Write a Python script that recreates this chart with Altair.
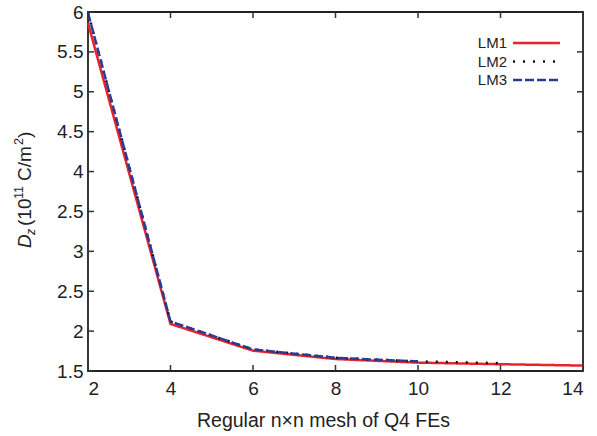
import altair as alt
import pandas as pd

# ---- data ----
series = ["LM1", "LM2", "LM3"]
mesh_lm1 = [2, 4, 6, 8, 10, 12, 14]
dz_lm1 = [5.86, 2.09, 1.755, 1.65, 1.605, 1.585, 1.568]
mesh_lm2 = [2, 4, 6, 8, 10, 12]
dz_lm2 = [5.99, 2.12, 1.77, 1.665, 1.62, 1.598]
mesh_lm3 = [2, 4, 6, 8, 10]
dz_lm3 = [5.99, 2.12, 1.77, 1.665, 1.62]

x_ticks = [2, 4, 6, 8, 10, 12, 14]
y_ticks = [1.5, 2, 2.5, 3, 3.5, 4, 4.5, 5, 5.5, 6]
y_tick_labels = ["1.5", "2", "2.5", "3", "2.5", "4", "4.5", "5", "5.5", "6"]

colors = ["#e8232a", "#111111", "#2b3a92"]
dashes = [[1, 0], [2, 8], [9, 3]]
widths = [2.5, 2.5, 3]

rows = []
for name, xs, ys in zip(series, [mesh_lm1, mesh_lm2, mesh_lm3], [dz_lm1, dz_lm2, dz_lm3]):
    for xv, yv in zip(xs, ys):
        rows.append({"series": name, "n": xv, "dz": yv})
df = pd.DataFrame(rows)

FONT = "Liberation Sans"
W, H = 495, 359

# label expression reproducing the reference's tick labels
expr = "datum.label"
for v, lab in zip(y_ticks, y_tick_labels):
    expr = f"datum.value == {v} ? '{lab}' : ({expr})"

xscale = alt.Scale(domain=[2, 14], nice=False, zero=False)
yscale = alt.Scale(domain=[1.5, 6], nice=False, zero=False)
cscale = alt.Scale(domain=series, range=colors)
dscale = alt.Scale(domain=series, range=dashes)
wscale = alt.Scale(domain=series, range=widths)

xaxis = alt.Axis(values=x_ticks, title="Regular n×n mesh of Q4 FEs",
                 ticks=False, tickSize=0, domain=False, grid=False,
                 labelFontSize=19, labelPadding=8, labelFont=FONT,
                 labelColor="#222", titleFont=FONT, titleFontSize=19.5,
                 titleFontWeight="normal", titleColor="#222",
                 titlePadding=13, titleX=235, titleAlign="center")

lines = alt.Chart(df).mark_line().encode(
    x=alt.X("n:Q", scale=xscale, axis=xaxis),
    y=alt.Y("dz:Q", scale=yscale,
            axis=alt.Axis(values=y_ticks, title=None, labelExpr=expr,
                          ticks=False, tickSize=0, domain=False, grid=False,
                          labelFontSize=19, labelPadding=5, labelFont=FONT,
                          labelColor="#222")),
    color=alt.Color("series:N", scale=cscale, legend=None),
    strokeDash=alt.StrokeDash("series:N", scale=dscale, legend=None),
    strokeWidth=alt.StrokeWidth("series:N", scale=wscale, legend=None),
)

ydf = pd.DataFrame({"v": y_ticks})
xdf = pd.DataFrame({"v": x_ticks})
tick_style = dict(color="#333", strokeWidth=1.5)
left_ticks = alt.Chart(ydf).mark_rule(**tick_style).encode(
    y=alt.Y("v:Q", scale=yscale, axis=None), x=alt.value(0), x2=alt.value(6))
right_ticks = alt.Chart(ydf).mark_rule(**tick_style).encode(
    y=alt.Y("v:Q", scale=yscale, axis=None), x=alt.value(W - 6), x2=alt.value(W))
bottom_ticks = alt.Chart(xdf).mark_rule(**tick_style).encode(
    x=alt.X("v:Q", scale=xscale, axis=xaxis), y=alt.value(H), y2=alt.value(H - 6))
top_ticks = alt.Chart(xdf).mark_rule(**tick_style).encode(
    x=alt.X("v:Q", scale=xscale, axis=xaxis), y=alt.value(0), y2=alt.value(6))

# legend (labels to the left of the line samples, as in the reference)
ldf = pd.DataFrame({"series": series})
lyscale = alt.Scale(type="point", domain=series, range=[31, 68], padding=0)
legend_lines = alt.Chart(ldf).mark_rule().encode(
    y=alt.Y("series:N", scale=lyscale, axis=None),
    x=alt.value(425), x2=alt.value(472),
    color=alt.Color("series:N", scale=cscale, legend=None),
    strokeDash=alt.StrokeDash("series:N", scale=dscale, legend=None),
    strokeWidth=alt.StrokeWidth("series:N", scale=wscale, legend=None),
)
legend_text = alt.Chart(ldf).mark_text(
    align="right", baseline="middle", font=FONT, fontSize=15, color="#222"
).encode(
    y=alt.Y("series:N", scale=lyscale, axis=None),
    x=alt.value(419),
    text="series:N",
)

# y-axis title built from pieces (italic D, subscript z, superscripts)
one = alt.Data(values=[{}])
def piece(txt, xpos, ypos, size, italic=False):
    return alt.Chart(one).mark_text(
        text=txt, angle=270, align="left", baseline="alphabetic",
        font=FONT, fontSize=size, fontStyle="italic" if italic else "normal",
        color="#222",
    ).encode(x=alt.value(xpos), y=alt.value(ypos))

title_parts = [
    piece("D", -57, 236, 19, True),
    piece("z", -53, 223, 12.5, True),
    piece("(10", -57, 214, 19),
    piece("11", -65, 187, 12.5),
    piece("C/m", -57, 169, 19),
    piece("2", -65, 133, 12.5),
    piece(")", -57, 126, 19),
]

chart = alt.layer(
    lines, left_ticks, right_ticks, bottom_ticks, top_ticks,
    legend_lines, legend_text, *title_parts
).resolve_scale(
    y="independent"
).properties(
    width=W, height=H,
    autosize=alt.AutoSizeParams(type="none"),
    padding={"left": 88, "top": 12, "right": 14, "bottom": 65},
    background="white",
).configure_view(
    stroke="#222", strokeWidth=1.8
)

chart.save("out.html", embed_options={"renderer": "svg", "actions": False})
